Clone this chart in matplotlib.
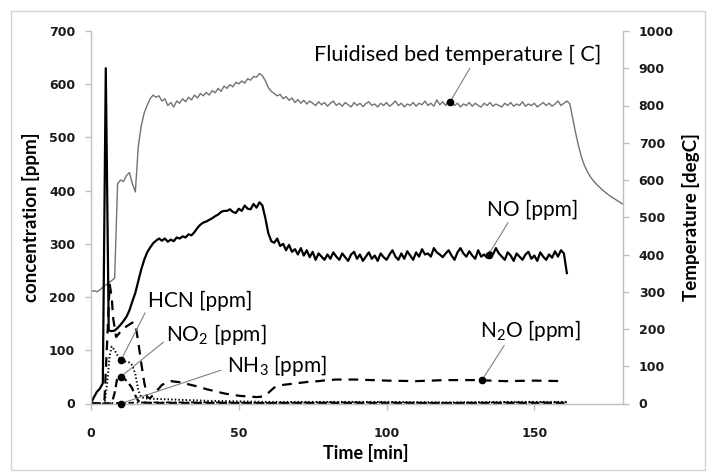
import matplotlib
matplotlib.use('Agg')
import matplotlib.pyplot as plt
from matplotlib.patches import Rectangle
import numpy as np

# temperature of the fluidised bed [degC], sampled every minute from t=0 to t=180
TEMP_DEGC = [
    300, 303, 300, 305, 312, 318, 324, 330, 337, 590,
    600, 596, 612, 620, 590, 568, 690, 745, 780, 800,
    818, 828, 822, 826, 812, 818, 800, 808, 796, 812,
    806, 818, 810, 822, 815, 828, 820, 832, 826, 835,
    828, 840, 834, 846, 838, 852, 846, 856, 850, 862,
    858, 866, 860, 872, 868, 878, 876, 886, 880, 866,
    848, 838, 832, 826, 830, 818, 824, 814, 820, 808,
    816, 806, 814, 804, 812, 806, 800, 810, 802, 808,
    798, 806, 812, 800, 806, 798, 808, 802, 796, 808,
    800, 806, 797, 805, 810, 800, 804, 796, 806, 800,
    808, 798, 804, 812, 800, 806, 796, 804, 800, 808,
    798, 806, 802, 812, 800, 806, 798, 815, 802, 810,
    800, 814, 808, 800, 806, 796, 804, 800, 808, 798,
    806, 800, 796, 806, 800, 808, 798, 804, 800, 796,
    806, 800, 808, 798, 804, 800, 810, 798, 804, 800,
    806, 796, 802, 808, 800, 806, 798, 804, 812, 800,
    806, 812, 805, 765, 725, 690, 660, 638, 622, 608,
    598, 589, 581, 574, 567, 561, 555, 550, 545, 540,
    535,
]

# NO [ppm], sampled every minute from t=0 to t=161
NO_PPM = [
    0, 12, 22, 28, 38, 630, 137, 136, 137, 142,
    148, 155, 163, 175, 192, 208, 230, 252, 270, 284,
    293, 301, 306, 310, 306, 310, 304, 308, 305, 312,
    310, 314, 312, 318, 316, 322, 330, 336, 340, 342,
    345, 348, 352, 355, 360, 362, 362, 365, 360, 358,
    366, 362, 372, 366, 365, 375, 368, 378, 372, 348,
    320, 305, 302, 310, 296, 300, 288, 298, 285, 290,
    280, 292, 278, 288, 275, 285, 270, 282, 276, 270,
    280, 272, 284, 276, 270, 282, 275, 268, 280, 285,
    272, 280, 268, 276, 284, 272, 278, 268, 282, 275,
    270, 280, 288, 276, 270, 282, 272, 286, 278, 270,
    284, 276, 290, 280, 282, 276, 292, 284, 280, 275,
    282, 288, 278, 270, 284, 292, 282, 276, 286, 278,
    272, 288, 276, 280, 274, 285, 280, 292, 282, 276,
    270, 284, 278, 268, 282, 276, 270, 280, 285, 272,
    278, 268, 284, 276, 270, 280, 274, 286, 276, 288,
    282, 245,
]

HCN_T = [0, 4, 4.7, 5.5, 6.3, 7, 8, 9, 10, 11, 12, 13, 14, 15, 16, 17, 18, 20, 25,
         30, 40, 50, 60, 80, 100, 120, 140, 160, 161]
HCN_PPM = [0, 0, 5, 40, 90, 107, 100, 90, 83, 80, 78, 77, 72, 55, 25, 12, 10, 9, 8,
           7, 5, 4, 3, 3, 3, 2, 3, 3, 3]

NO2_T = [0, 7, 8, 8.8, 9.7, 11, 12.5, 13.8, 15, 16, 17, 20, 40, 60, 80, 100, 120, 140, 161]
NO2_PPM = [0, 0, 20, 45, 52, 48, 40, 30, 15, 5, 2, 1, 1, 1, 1, 1, 1, 1, 1]

NH3_T = [0, 10, 20, 40, 60, 80, 100, 120, 140, 161]
NH3_PPM = [0, 1, 2, 2, 1, 2, 2, 1, 2, 2]

N2O_T = [0, 4.5, 5.5, 6.3, 7, 7.5, 8.5, 10, 12, 14, 15, 16, 17, 18, 19, 20, 22, 24, 27,
         30, 33, 36, 39, 42, 45, 48, 51, 54, 56, 58, 60, 62, 65, 68, 71, 74, 77, 80, 83,
         90, 100, 110, 120, 131, 140, 150, 160]
N2O_PPM = [0, 0, 120, 225, 200, 160, 125, 135, 145, 152, 150, 115, 76, 40, 12, 10, 22, 35, 42,
           40, 36, 32, 27, 23, 19, 16, 14, 13, 12, 13, 20, 30, 35, 37, 39, 41, 42, 44, 45,
           45, 43, 42, 44, 44, 42, 43, 42]

plt.rcParams['font.family'] = ['Lato', 'DejaVu Sans']
plt.rcParams['mathtext.default'] = 'regular'
plt.rcParams['lines.scale_dashes'] = False

SPINE = '#bfbfbf'
LINE_GREY = '#727272'
ANN_GREY = '#7f7f7f'
TICK_FONT = dict(family='DejaVu Sans', weight='bold', size=9)

fig = plt.figure(figsize=(7.08, 4.72), dpi=100)
fig.patches.append(Rectangle((11 / 708, 2 / 472), 694 / 708, 459 / 472, transform=fig.transFigure,
                             fill=False, edgecolor='#d4d4d4', linewidth=1.0))
ax = fig.add_axes([91 / 708, 1 - 403.5 / 472, 532 / 708, 372.5 / 472])
ax2 = ax.twinx()
ax.set_zorder(ax2.get_zorder() + 1)
ax.patch.set_visible(False)

t_temp = np.arange(len(TEMP_DEGC))
t_no = np.arange(len(NO_PPM))

ax2.plot(t_temp, TEMP_DEGC, color=LINE_GREY, linewidth=1.0)
ax.plot(t_no, NO_PPM, color='black', linewidth=1.6)
ax.plot(N2O_T, N2O_PPM, color='black', linewidth=1.6, dashes=(7, 5))
ax.plot(HCN_T, HCN_PPM, color='black', linewidth=1.4, dashes=(1, 1.6))
ax.plot(NO2_T, NO2_PPM, color='black', linewidth=1.6, dashes=(6, 3))
ax.plot(NH3_T, NH3_PPM, color='black', linewidth=1.3, dashes=(4, 2, 1, 2))

ax.set_xlim(0, 180)
ax.set_ylim(0, 700)
ax2.set_ylim(0, 1000)
ax.set_xticks([0, 50, 100, 150])
ax.set_yticks(np.arange(0, 701, 100))
ax2.set_yticks(np.arange(0, 1001, 100))

for a in (ax, ax2):
    a.spines['top'].set_visible(False)
    for side in ('left', 'right', 'bottom'):
        a.spines[side].set_color(SPINE)
        a.spines[side].set_linewidth(1.0)
ax.spines['right'].set_visible(False)
ax2.spines['left'].set_visible(False)
ax2.spines['bottom'].set_visible(False)

ax.tick_params(axis='y', direction='out', length=4.3, width=1, color=SPINE, pad=7,
               labelcolor='#1a1a1a')
ax.tick_params(axis='x', direction='out', length=4.0, width=1, color=SPINE, pad=12.6,
               labelcolor='#1a1a1a')
ax2.tick_params(axis='y', direction='out', length=4.3, width=1, color=SPINE, pad=7,
                labelcolor='#1a1a1a')
for lab in ax.get_xticklabels() + ax.get_yticklabels() + ax2.get_yticklabels():
    lab.set(**TICK_FONT)

ax.set_xlabel('Time [min]', fontsize=13, fontweight='bold', va='center')
ax.xaxis.set_label_coords((366 - 91) / 532, -(453 - 403.5) / 372.5)
ax.set_ylabel('concentration [ppm]', fontsize=13.5, fontweight='bold', va='center')
ax.yaxis.set_label_coords(-(91 - 31) / 532, 0.5)
ax2.set_ylabel('Temperature [degC]', fontsize=13.5, fontweight='bold', va='center')
ax2.yaxis.set_label_coords((691 - 91) / 532, 0.5)

arrow = dict(arrowstyle='-', color=ANN_GREY, linewidth=0.8, shrinkA=0, shrinkB=0)
dot = dict(marker='o', markersize=4.5, color='black', zorder=5)

# temperature annotation (right axis)
ax2.annotate('Fluidised bed temperature [ C]', xy=(121.5, 810), xytext=(123.9, 935),
             ha='center', va='center', fontsize=15.5,
             arrowprops=dict(arrow, relpos=(0.55, 0.0)))
ax2.plot([121.5], [810], **dot)

labels = [
    ('NO [ppm]', (134.5, 280), (149.4, 364), (0.25, 0.0)),
    ('N$_2$O [ppm]', (132.3, 44), (148.6, 138), (0.26, 0.0)),
    ('HCN [ppm]', (10.2, 82), (36.9, 192), (0.0, 0.2)),
    ('NO$_2$ [ppm]', (10.0, 50), (42.5, 129), (0.0, 0.3)),
    ('NH$_3$ [ppm]', (10.2, 0), (62.9, 72), (-0.06, 0.3)),
]
for text, xy, xytext, rel in labels:
    ax.annotate(text, xy=xy, xytext=xytext, ha='center', va='center', fontsize=15,
                arrowprops=dict(arrow, relpos=rel), annotation_clip=False)
    ax.plot([xy[0]], [xy[1]], clip_on=False, **dot)

fig.savefig('out.png', dpi=100)
